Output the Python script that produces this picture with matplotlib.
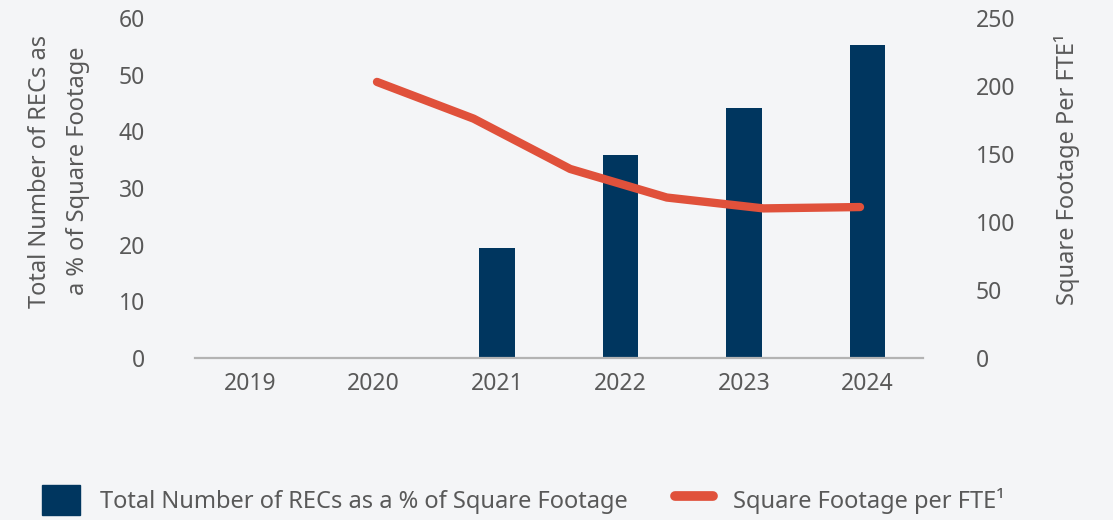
import numpy as np
import matplotlib.pyplot as plt
from matplotlib.patches import Patch
from matplotlib.lines import Line2D

years = ["2019", "2020", "2021", "2022", "2023", "2024"]
recs_pct = [0, 0, 19.4, 35.8, 44.1, 55.2]
sqft_per_fte = [203, 176, 139, 118, 110, 111]

bg = "#f4f5f7"
navy = "#00365f"
red = "#e0513b"
grey = "#595959"

plt.rcParams["font.family"] = ["Noto Sans", "DejaVu Sans"]

fig = plt.figure(figsize=(11.13, 5.20), dpi=100, facecolor=bg)
rect = [195 / 1113, 1 - 358 / 520, (923 - 195) / 1113, (358 - 18) / 520]

# bars on the left axis
ax = fig.add_axes(rect)
ax.set_facecolor(bg)
x = np.arange(len(years))
ax.bar(x, recs_pct, width=0.29, color=navy, zorder=2)
ax.set_xlim(-0.445, 5.449)
ax.set_ylim(0, 60)
ax.set_yticks(np.arange(0, 61, 10))
ax.set_xticks(x)
ax.set_xticklabels(years)
for s in ["top", "right", "left"]:
    ax.spines[s].set_visible(False)
ax.spines["bottom"].set_color("#b3b3b3")
ax.spines["bottom"].set_linewidth(1.6)
ax.tick_params(length=0, labelsize=16.5, colors=grey)
ax.tick_params(axis="y", pad=36)
ax.tick_params(axis="x", pad=10)

# line on its own axes, right y scale
ax2 = fig.add_axes(rect)
ax2.patch.set_visible(False)
ax2.plot(np.arange(len(sqft_per_fte)), sqft_per_fte, color=red, lw=6,
         solid_capstyle="round", solid_joinstyle="round", zorder=3)
ax2.set_xlim(-1.884, 5.652)
ax2.set_ylim(0, 250)
ax2.set_yticks(np.arange(0, 251, 50))
ax2.yaxis.tick_right()
ax2.xaxis.set_visible(False)
for s in ax2.spines.values():
    s.set_visible(False)
ax2.tick_params(length=0, labelsize=16.5, colors=grey, pad=38)

fig.text(40 / 1113, 1 - 171 / 520, "Total Number of RECs as", rotation=90,
         ha="center", va="center", fontsize=17, color=grey)
fig.text(78 / 1113, 1 - 171 / 520, "a % of Square Footage", rotation=90,
         ha="center", va="center", fontsize=17, color=grey)
fig.text(1067 / 1113, 1 - 169 / 520, "Square Footage Per FTE¹", rotation=90,
         ha="center", va="center", fontsize=17, color=grey)

handles = [Patch(color=navy, label="Total Number of RECs as a % of Square Footage"),
           Line2D([], [], color=red, lw=7, solid_capstyle="round",
                  label="Square Footage per FTE¹")]
fig.legend(handles=handles, loc="lower left", bbox_to_anchor=(42 / 1113, 0.0095),
           ncol=2, frameon=False, fontsize=17, labelcolor=grey,
           borderpad=0, borderaxespad=0,
           handlelength=1.6, handleheight=1.6, handletextpad=0.85, columnspacing=2.0)

fig.savefig("out.png", dpi=100, facecolor=bg)
